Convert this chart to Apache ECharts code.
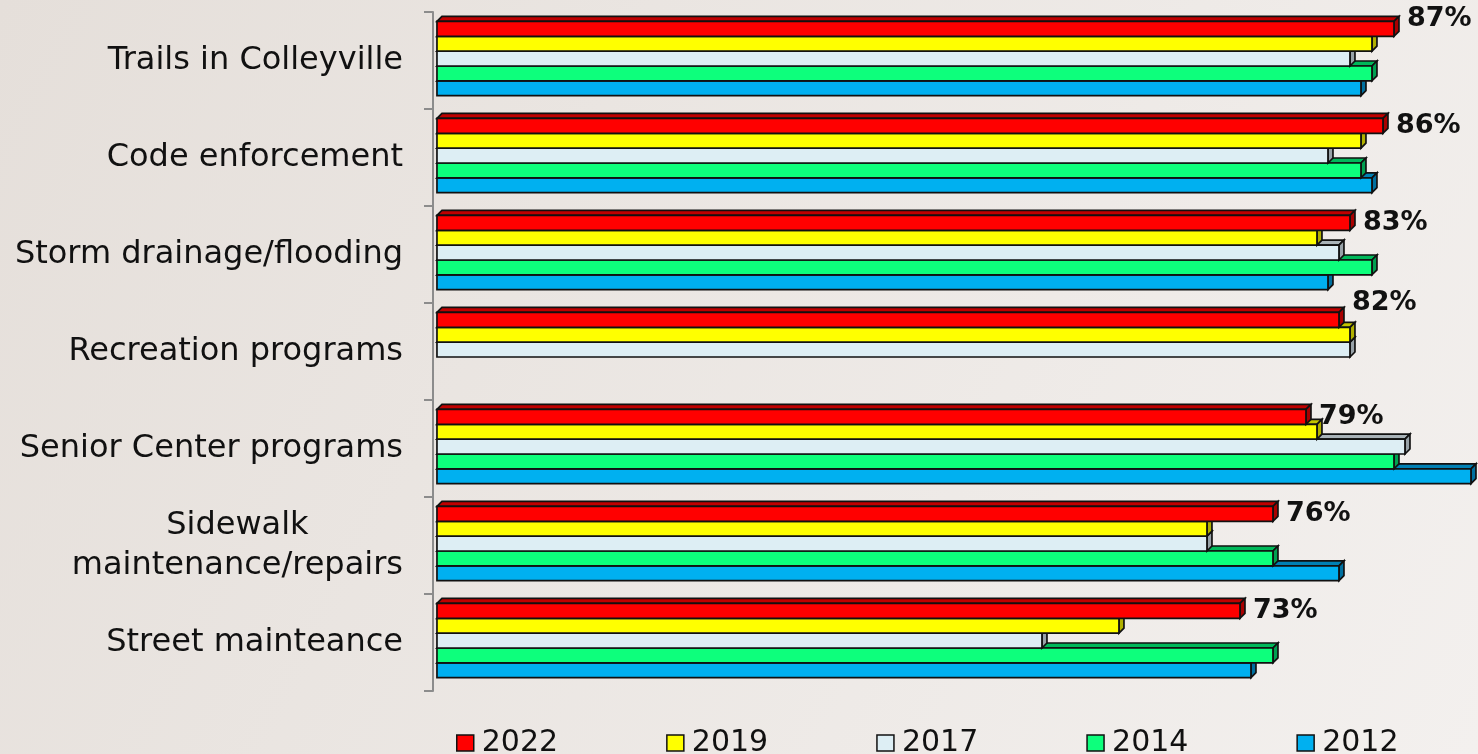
<!DOCTYPE html>
<html>
<head>
<meta charset="utf-8">
<script src="https://cdn.jsdelivr.net/npm/echarts@6/dist/echarts.min.js"></script>
<style>
html, body { margin: 0; padding: 0; }
#main { width: 1478px; height: 754px; }
</style>
</head>
<body>
<div id="main"></div>
<script>
// categories, top to bottom
var categories = ['Trails in Colleyville', 'Code enforcement', 'Storm drainage/flooding',
    'Recreation programs', 'Senior Center programs', 'Sidewalk\nmaintenance/repairs', 'Street mainteance'];
var years = ['2022', '2019', '2017', '2014', '2012'];

// percent satisfied, per year (null = not asked)
var v2022 = [87, 86, 83, 82, 79, 76, 73];
var v2019 = [85, 84, 80, 83, 80, 70, 62];
var v2017 = [83, 81, 82, 83, 88, 70, 55];
var v2014 = [85, 84, 85, null, 87, 76, 76];
var v2012 = [84, 85, 81, null, 94, 82, 74];

var allValues = [v2022, v2019, v2017, v2014, v2012];

// front / top / side colors of the 3d bars
var fronts = ['#FF0000', '#FFFF00', '#DDEEF4', '#0DFF7C', '#00B0F0'];
var tops   = ['#C00000', '#C4C400', '#A9B3B8', '#00B85A', '#0080B4'];
var sides  = ['#A80000', '#B0B000', '#98A2A8', '#00A050', '#0070A0'];

// small nudge for a couple of value labels (px, upward)
var labelLift = { 0: 10, 3: 17 };

var DEPTH = 5;

function makeRender(k) {
    return function (params, api) {
        var v = api.value(0);
        if (v == null || isNaN(v)) return;
        var cat = api.value(1);
        var end = api.coord([v, cat]);
        var x0 = api.coord([0, cat])[0];
        var band = api.size([0, 1])[1];
        var h = band * 0.153;
        var y = end[1] - band * 0.02 - 2.5 * h + k * h;
        var x1 = end[0];
        var d = DEPTH;
        var line = { stroke: '#111', lineWidth: 1.7 };
        var kids = [
            {
                type: 'polygon',
                shape: { points: [[x0, y], [x0 + d, y - d], [x1 + d, y - d], [x1, y]] },
                style: Object.assign({ fill: tops[k] }, line)
            },
            {
                type: 'polygon',
                shape: { points: [[x1, y], [x1 + d, y - d], [x1 + d, y + h - d], [x1, y + h]] },
                style: Object.assign({ fill: sides[k] }, line)
            },
            {
                type: 'rect',
                shape: { x: x0, y: y, width: x1 - x0, height: h },
                style: Object.assign({ fill: fronts[k] }, line)
            }
        ];
        if (k === 0) {
            kids.push({
                type: 'text',
                x: x1 + 13,
                y: y + h / 2 - (labelLift[params.dataIndex] || 0),
                style: {
                    text: v + '%',
                    fill: '#111',
                    font: 'bold 27px "DejaVu Sans"',
                    align: 'left',
                    verticalAlign: 'middle'
                }
            });
        }
        return { type: 'group', children: kids };
    };
}

var series = [];
years.forEach(function (yr, k) {
    var pts = allValues[k].map(function (val, i) {
        return [val == null ? '-' : val, i];
    });
    series.push({
        name: yr,
        type: 'custom',
        z: 10 - k,
        renderItem: makeRender(k),
        encode: { x: 0, y: 1 },
        itemStyle: { color: fronts[k] },
        data: pts
    });
});

var myChart = echarts.init(document.getElementById('main'));

var option = {
    animation: false,
    backgroundColor: {
        type: 'linear', x: 0, y: 0, x2: 1, y2: 1,
        colorStops: [{ offset: 0, color: '#E5DFDA' }, { offset: 1, color: '#F3F0EE' }]
    },
    grid: { left: 433, right: 0, top: 12, bottom: 63 },
    xAxis: {
        type: 'value',
        min: -0.36,
        max: 94.64,
        show: false
    },
    yAxis: {
        type: 'category',
        data: categories,
        inverse: true,
        axisLine: { show: true, onZero: false, lineStyle: { color: '#8c8c8c', width: 2 } },
        axisTick: { show: true, length: 9, lineStyle: { color: '#8c8c8c', width: 2 } },
        axisLabel: {
            margin: 30,
            formatter: function (s) {
                return s.split('\n').map(function (p) { return '{c|' + p + '}'; }).join('\n');
            },
            rich: {
                c: {
                    align: 'center',
                    fontFamily: 'DejaVu Sans',
                    fontSize: 32,
                    lineHeight: 40,
                    color: '#111'
                }
            }
        }
    },
    legend: {
        data: years,
        left: 451,
        top: 720,
        icon: 'rect',
        itemWidth: 17,
        itemHeight: 16,
        itemGap: 108,
        itemStyle: { borderColor: '#111', borderWidth: 1.5 },
        textStyle: {
            fontFamily: 'DejaVu Sans',
            fontSize: 30,
            lineHeight: 36,
            color: '#111',
            padding: [0, 0, 0, 3]
        }
    },
    series: series
};

myChart.setOption(option);
</script>
</body>
</html>
